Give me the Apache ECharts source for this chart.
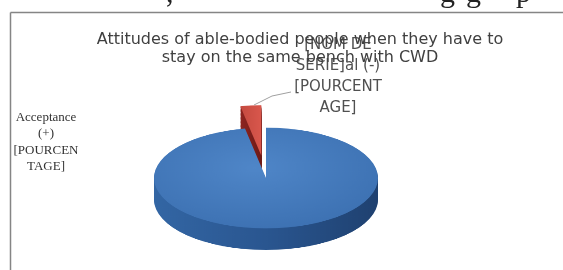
<!DOCTYPE html>
<html>
<head>
<meta charset="utf-8">
<script src="https://cdn.jsdelivr.net/npm/echarts@6/dist/echarts.min.js"></script>
<style>
  html, body { margin: 0; padding: 0; background: #fff; }
  #wrap { position: relative; width: 563px; height: 270px; overflow: hidden; }
  /* the pie is drawn flat, then squashed to look tilted */
  #pie { position: absolute; left: 0; top: 88px; width: 563px; height: 380px;
         transform: scaleY(0.45); transform-origin: 0 0; }
  #over { position: absolute; left: 0; top: 0; width: 563px; height: 270px; }
</style>
</head>
<body>
<div id="wrap">
  <div id="pie"></div>
  <div id="over"></div>
</div>
<script>
// data
const categories = ['Acceptance (+)', '[NOM DE SERIE]al (-)'];
const values = [97, 3];
const labelLines = [
  ['Acceptance', '(+)', '[POURCEN', 'TAGE]'],
  ['[NOM DE', 'SERIE]al (-)', '[POURCENT', 'AGE]']
];
const titleLines = ['Attitudes of able-bodied people when they have to', 'stay on the same bench with CWD'];

const topColors = [
  { type: 'radial', x: 0.45, y: 0.4, r: 0.7, colorStops: [{ offset: 0, color: '#4f86c8' }, { offset: 1, color: '#3b6fb0' }] },
  { type: 'linear', x: 0, y: 0, x2: 1, y2: 0, colorStops: [{ offset: 0, color: '#c44a40' }, { offset: 1, color: '#d9574c' }] }
];
const sideColors = [
  { type: 'linear', x: 0, y: 0, x2: 1, y2: 0, colorStops: [{ offset: 0, color: '#3366a4' }, { offset: 0.5, color: '#2a5690' }, { offset: 1, color: '#1f4170' }] },
  { type: 'linear', x: 0, y: 0, x2: 1, y2: 0, colorStops: [{ offset: 0, color: '#8e2420' }, { offset: 1, color: '#6d1a17' }] }
];

const cx = 266, cy = 200, r = 112;
const depth = 48, step = 3;

function pieLayer(dy, colors) {
  return {
    type: 'pie',
    radius: r,
    center: [cx, cy + dy],
    startAngle: 90,
    clockwise: true,
    selectedMode: 'single',
    selectedOffset: 50,
    silent: true,
    animation: false,
    label: { show: false },
    labelLine: { show: false },
    emphasis: { disabled: true },
    data: categories.map(function (c, i) {
      return { name: c, value: values[i], selected: i === 1, itemStyle: { color: colors[i] } };
    })
  };
}

var series = [];
for (var d = depth; d > 0; d -= step) {
  series.push(pieLayer(d, sideColors));
}
series.push(pieLayer(0, topColors));

const pie = echarts.init(document.getElementById('pie'));
pie.setOption({ animation: false, series: series });

// bits of the page text above the chart, cut off at the top
function cutGlyph(ch, x) {
  return { type: 'text', x: x, y: 9, style: { text: ch, font: '30px "Liberation Serif"', fill: '#222', verticalAlign: 'bottom' } };
}

// texts and frame on top, not squashed
const over = echarts.init(document.getElementById('over'));
over.setOption({
  animation: false,
  title: {
    text: titleLines.join('\n'),
    left: 295,
    top: 26,
    textAlign: 'center',
    textStyle: { fontFamily: 'DejaVu Sans', fontSize: 16, fontWeight: 'normal', color: '#404040', lineHeight: 18 }
  },
  graphic: [
    cutGlyph(',', 166), cutGlyph('g', 440), cutGlyph('g', 466), cutGlyph('p', 516),
    { type: 'line', shape: { x1: 10.5, y1: 12.5, x2: 563, y2: 12.5 }, style: { stroke: '#858585', lineWidth: 1.5 } },
    { type: 'line', shape: { x1: 10.5, y1: 12.5, x2: 10.5, y2: 270 }, style: { stroke: '#858585', lineWidth: 1.5 } },
    {
      type: 'text', x: 46, y: 109,
      style: { text: labelLines[0].join('\n'), font: '13px "Liberation Serif"', fill: '#333', align: 'center', lineHeight: 16.5 }
    },
    {
      type: 'text', x: 338, y: 35,
      style: { text: labelLines[1].join('\n'), font: '15px "DejaVu Sans"', fill: '#505050', align: 'center', lineHeight: 21 }
    },
    { type: 'polyline', shape: { points: [[291, 92], [272, 96], [254, 105]] }, style: { stroke: '#a0a0a0', lineWidth: 1, fill: null } }
  ]
});
</script>
</body>
</html>
